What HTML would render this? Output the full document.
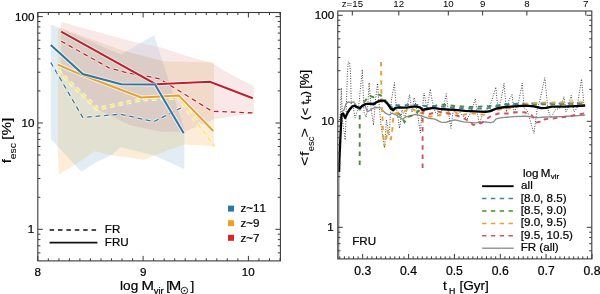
<!DOCTYPE html><html><head><meta charset="utf-8"><style>html,body{margin:0;padding:0;background:#fff;width:600px;height:294px;overflow:hidden}svg{display:block;will-change:transform}text{font-family:"Liberation Sans",sans-serif;fill:#000;stroke:#000;stroke-width:0.22px;font-kerning:none}</style></head><body>
<svg width="600" height="294" viewBox="0 0 600 294">
<defs><clipPath id="cp"><polygon points="61.2,22.1 135.0,42.2 160.9,47.6 190.0,56.9 212.0,62.9 224.0,70.5 236.0,77.3 248.0,83.3 253.8,86.3 253.8,113.3 213.6,119.5 184.3,132.0 160.6,131.4 130.0,125.3 97.4,109.2 61.2,72.0"/></clipPath><clipPath id="co"><polygon points="57.8,27.0 121.0,50.0 163.5,61.3 213.9,62.6 213.9,146.2 184.3,144.5 154.4,155.5 144.2,159.8 110.4,154.9 94.5,151.2 75.8,164.3 59.0,174.5 57.8,150.0"/></clipPath></defs>
<polygon points="61.2,22.1 135.0,42.2 160.9,47.6 190.0,56.9 212.0,62.9 224.0,70.5 236.0,77.3 248.0,83.3 253.8,86.3 253.8,113.3 213.6,119.5 184.3,132.0 160.6,131.4 130.0,125.3 97.4,109.2 61.2,72.0" fill="#f9e8e8"/>
<polygon points="57.8,27.0 121.0,50.0 163.5,61.3 213.9,62.6 213.9,146.2 184.3,144.5 154.4,155.5 144.2,159.8 110.4,154.9 94.5,151.2 75.8,164.3 59.0,174.5 57.8,150.0" fill="#fcecd8"/>
<polygon points="50.8,24.5 121.2,54.4 154.0,34.9 184.3,129.0 184.3,169.1 154.4,155.5 120.4,147.0 111.9,154.7 100.0,160.6 95.5,162.4 81.4,171.7 50.8,139.0" fill="#e1ecf4"/>
<polygon points="57.8,27.0 121.0,50.0 163.5,61.3 213.9,62.6 213.9,146.2 184.3,144.5 154.4,155.5 144.2,159.8 110.4,154.9 94.5,151.2 75.8,164.3 59.0,174.5 57.8,150.0" fill="#f2dacb" clip-path="url(#cp)"/>
<polygon points="50.8,24.5 121.2,54.4 154.0,34.9 184.3,129.0 184.3,169.1 154.4,155.5 120.4,147.0 111.9,154.7 100.0,160.6 95.5,162.4 81.4,171.7 50.8,139.0" fill="#e4dde4" clip-path="url(#cp)"/>
<polygon points="50.8,24.5 121.2,54.4 154.0,34.9 184.3,129.0 184.3,169.1 154.4,155.5 120.4,147.0 111.9,154.7 100.0,160.6 95.5,162.4 81.4,171.7 50.8,139.0" fill="#e2e0d0" clip-path="url(#co)"/>
<g clip-path="url(#co)"><polygon points="50.8,24.5 121.2,54.4 154.0,34.9 184.3,129.0 184.3,169.1 154.4,155.5 120.4,147.0 111.9,154.7 100.0,160.6 95.5,162.4 81.4,171.7 50.8,139.0" fill="#dbcdc6" clip-path="url(#cp)"/></g>
<polyline points="50.8,62.5 82.8,117.5 120.3,114.2 153.7,121.7 180.8,108.0" fill="none" stroke="#fff" stroke-opacity="0.75" stroke-width="3.1" stroke-dasharray="4.6,3.9"/>
<polyline points="50.8,62.5 82.8,117.5 120.3,114.2 153.7,121.7 180.8,108.0" fill="none" stroke="#33759c" stroke-width="1.3" stroke-dasharray="4.6,3.9"/>
<polyline points="61.2,41.2 109.0,67.8 127.3,72.9 145.7,75.9 160.0,79.0 212.0,111.2 253.7,113.0" fill="none" stroke="#fff" stroke-opacity="0.75" stroke-width="3.1" stroke-dasharray="4.6,3.9"/>
<polyline points="61.2,41.2 109.0,67.8 127.3,72.9 145.7,75.9 160.0,79.0 212.0,111.2 253.7,113.0" fill="none" stroke="#c41c2c" stroke-width="1.3" stroke-dasharray="4.6,3.9"/>
<polyline points="57.8,70.5 97.4,108.8 141.2,99.6 178.7,97.5 214.5,146.4" fill="none" stroke="#fff" stroke-opacity="0.75" stroke-width="4.0" stroke-dasharray="4.6,3.9"/>
<polyline points="57.8,70.5 97.4,108.8 141.2,99.6 178.7,97.5 214.5,146.4" fill="none" stroke="#f6ec70" stroke-width="2.2" stroke-dasharray="4.6,3.9"/>
<polyline points="61.2,31.7 155.8,84.2 209.9,81.7 252.8,98.3" fill="none" stroke="#fff" stroke-opacity="0.75" stroke-width="3.8"/>
<polyline points="61.2,31.7 155.8,84.2 209.9,81.7 252.8,98.3" fill="none" stroke="#c41c2c" stroke-width="2.0"/>
<polyline points="57.8,64.6 82.8,75.3 141.2,97.5 178.7,95.4 213.3,131.0" fill="none" stroke="#fff" stroke-opacity="0.75" stroke-width="3.8"/>
<polyline points="57.8,64.6 82.8,75.3 141.2,97.5 178.7,95.4 213.3,131.0" fill="none" stroke="#e6a030" stroke-width="2.0"/>
<polyline points="50.8,45.0 82.8,74.0 121.2,84.3 155.0,84.6 183.7,133.3" fill="none" stroke="#fff" stroke-opacity="0.75" stroke-width="3.8"/>
<polyline points="50.8,45.0 82.8,74.0 121.2,84.3 155.0,84.6 183.7,133.3" fill="none" stroke="#33759c" stroke-width="2.0"/>
<defs><clipPath id="rc"><rect x="338.3" y="11.5" width="253" height="247"/></clipPath></defs>
<g clip-path="url(#rc)">
<polyline points="339.5,120.0 340.5,112.0 341.3,87.9 342.3,118.0 343.5,128.0 345.2,140.0 346.3,110.0 347.3,75.0 348.3,62.0 349.6,62.0 350.6,75.0 351.4,110.0 353.0,105.0 355.0,118.0 357.0,112.0 358.5,108.0 362.3,69.5 364.0,112.0 366.0,117.0 367.5,110.0 369.1,82.6 371.0,108.0 373.5,125.0 375.5,100.0 377.6,83.3 379.0,103.0 381.0,125.0 384.5,148.0 386.5,120.0 389.0,135.0 391.5,100.0 394.4,82.6 396.0,105.0 399.6,128.3 402.0,110.0 405.0,118.0 409.5,94.5 412.0,112.0 414.1,97.6 417.0,110.0 420.3,132.9 422.0,112.0 424.1,93.0 427.0,110.0 430.2,89.1 432.0,100.0 435.0,112.0 440.0,115.0 444.0,105.0 446.3,93.7 448.0,110.0 450.9,128.3 453.0,112.0 458.0,110.0 462.0,115.0 467.2,118.9 471.0,112.0 475.4,98.5 477.0,112.0 479.5,124.0 483.0,112.0 489.0,108.0 492.0,100.0 495.8,87.2 498.0,110.0 501.0,100.0 504.0,83.2 506.5,112.0 509.0,100.0 512.0,94.4 514.0,112.0 518.0,105.0 522.3,83.2 524.0,108.0 527.0,110.0 530.0,120.0 534.0,133.4 537.0,110.0 540.0,100.0 544.8,77.7 548.0,110.0 551.0,118.0 555.0,110.0 560.0,108.0 563.9,96.7 566.0,112.0 568.0,108.0 571.2,95.3 574.0,112.0 577.0,108.0 581.5,79.0 584.0,105.0" fill="none" stroke="#222" stroke-width="0.9" stroke-dasharray="0.9,1.6"/>
<polyline points="340.5,112.0 343.9,110.3 346.2,103.4 348.5,101.9 350.8,102.7 353.8,101.9 356.9,106.5 359.2,109.5 361.5,107.2 364.6,105.0 367.6,111.8 370.0,110.2 373.6,107.9 377.1,107.3 380.7,107.9 383.1,110.8 385.5,113.2 389.0,115.0 392.0,113.2 396.2,115.0 399.8,117.4 402.7,119.2 405.7,116.8 410.5,116.2 415.2,114.4 419.5,115.3 424.1,116.8 428.7,118.4 434.8,119.1 440.9,122.1 445.5,122.3 450.1,121.0 455.0,119.8 463.2,121.8 475.4,122.8 485.6,121.9 490.0,122.7 493.6,121.8 496.0,118.8 501.9,117.6 513.8,116.7 525.7,116.2 531.7,117.0 537.6,117.6 545.0,117.0 551.9,116.8 563.8,116.5 585.2,115.2" fill="none" stroke="#8a8a8a" stroke-width="1.3" stroke-linejoin="round"/>
<polyline points="359.7,165.0 359.7,110.0 362.0,105.0 365.0,101.0 368.4,96.3 370.0,96.0 373.6,97.1 377.1,94.2 380.7,95.4 385.0,100.0 389.6,104.9 395.0,110.8 401.0,115.6 404.5,122.1 408.1,116.8 411.7,115.6 416.4,112.6 420.0,110.0 430.0,108.0 439.4,104.4 447.8,105.2 455.0,106.0 470.0,107.0 490.0,106.0 510.0,104.5 537.6,104.5 560.0,104.0 585.0,103.5" fill="none" stroke="#4a8c32" stroke-width="1.9" stroke-dasharray="4.5,4.6"/>
<polyline points="343.0,113.4 345.2,117.0 347.7,112.6 350.0,108.8 354.6,105.7 360.0,107.5 365.3,104.2 372.0,103.7 380.7,100.7 386.0,102.5 391.0,106.0 393.8,104.9 401.0,105.5 409.3,104.9 417.6,104.9 425.0,106.0 435.0,106.2 447.0,107.0 455.0,108.0 470.0,108.5 485.0,108.5 492.4,107.7 497.1,106.0 505.5,104.3 513.8,103.9 530.0,103.5 560.0,103.5 585.0,103.2" fill="none" stroke="#3a82b4" stroke-width="1.9" stroke-dasharray="4.5,4.6"/>
<polyline points="381.0,62.0 381.5,100.0 382.5,117.0 383.0,134.0 384.5,146.0 386.0,140.0 387.5,130.0 389.0,138.0 391.0,139.0 392.5,128.0 393.3,118.0 395.0,113.6 397.5,112.8 404.5,111.4 410.5,107.9 418.0,112.2 424.0,114.0 430.2,116.8 439.4,115.3 446.0,113.0 455.0,112.0 461.0,115.8 470.0,113.0 483.6,114.8 490.0,111.0 496.0,109.9 504.3,108.7 513.8,108.1 522.0,104.5 530.5,103.6 538.8,102.7 560.0,102.5 585.0,102.3" fill="none" stroke="#e9a030" stroke-width="1.9" stroke-dasharray="4.5,4.6"/>
<polyline points="422.6,168.0 422.6,111.0 425.0,112.0 430.0,114.0 437.9,111.5 445.0,113.0 455.0,115.0 461.0,117.0 467.0,120.0 473.4,125.0 481.5,123.0 489.7,116.8 498.3,113.5 507.9,113.5 516.2,112.3 524.5,112.3 531.7,115.2 532.9,117.0 536.4,122.4 540.0,121.8 542.4,122.1 544.8,119.2 551.9,118.6 561.4,117.4 569.8,116.2 578.1,114.4 584.5,113.5" fill="none" stroke="#cc5560" stroke-width="1.9" stroke-dasharray="4.5,4.6"/>
<polyline points="339.1,172.0 339.4,160.0 340.3,140.0 341.5,114.5 343.1,113.4 345.2,118.0 347.7,112.6 350.0,108.8 352.3,106.5 354.6,105.7 356.9,107.2 360.0,108.0 362.3,105.7 365.3,104.2 370.0,103.7 373.6,104.3 377.1,101.9 380.7,100.7 384.3,100.7 387.9,104.3 390.8,108.5 393.2,110.2 395.6,107.9 398.6,107.3 403.3,107.6 408.1,107.3 412.9,106.7 416.4,106.7 420.0,107.3 422.6,109.8 427.1,109.0 433.3,107.8 439.4,108.8 447.0,109.5 455.0,109.9 465.2,110.9 475.4,111.3 485.6,111.8 490.0,111.1 496.0,108.7 501.9,107.5 513.8,106.3 525.7,105.7 534.0,106.3 541.2,108.1 546.0,107.9 551.9,106.7 563.8,106.7 575.7,106.1 585.2,105.5" fill="none" stroke="#000" stroke-width="2.3" stroke-linejoin="round"/>
<line x1="338.9" y1="171" x2="338.7" y2="259" stroke="#555" stroke-width="1"/>
</g>
<rect x="37.8" y="12.5" width="242.6" height="248.4" fill="none" stroke="#3a3a3a" stroke-width="1.1"/>
<rect x="337.8" y="11.0" width="254.0" height="247.9" fill="none" stroke="#3a3a3a" stroke-width="1.1"/>
<path d="M37.8 260.9v-5.0M37.8 12.5v5.0M48.3 260.9v-2.6M48.3 12.5v2.6M58.9 260.9v-2.6M58.9 12.5v2.6M69.4 260.9v-2.6M69.4 12.5v2.6M79.9 260.9v-2.6M79.9 12.5v2.6M90.4 260.9v-2.6M90.4 12.5v2.6M101.0 260.9v-2.6M101.0 12.5v2.6M111.5 260.9v-2.6M111.5 12.5v2.6M122.0 260.9v-2.6M122.0 12.5v2.6M132.6 260.9v-2.6M132.6 12.5v2.6M143.1 260.9v-5.0M143.1 12.5v5.0M153.6 260.9v-2.6M153.6 12.5v2.6M164.2 260.9v-2.6M164.2 12.5v2.6M174.7 260.9v-2.6M174.7 12.5v2.6M185.2 260.9v-2.6M185.2 12.5v2.6M195.8 260.9v-2.6M195.8 12.5v2.6M206.3 260.9v-2.6M206.3 12.5v2.6M216.8 260.9v-2.6M216.8 12.5v2.6M227.3 260.9v-2.6M227.3 12.5v2.6M237.9 260.9v-2.6M237.9 12.5v2.6M248.4 260.9v-5.0M248.4 12.5v5.0M258.9 260.9v-2.6M258.9 12.5v2.6M269.5 260.9v-2.6M269.5 12.5v2.6M280.0 260.9v-2.6M280.0 12.5v2.6M37.8 252.9h2.6M280.4 252.9h-2.6M37.8 245.8h2.6M280.4 245.8h-2.6M37.8 239.6h2.6M280.4 239.6h-2.6M37.8 234.2h2.6M280.4 234.2h-2.6M37.8 229.3h5.0M280.4 229.3h-5.0M37.8 197.3h2.6M280.4 197.3h-2.6M37.8 178.6h2.6M280.4 178.6h-2.6M37.8 165.3h2.6M280.4 165.3h-2.6M37.8 155.0h2.6M280.4 155.0h-2.6M37.8 146.5h2.6M280.4 146.5h-2.6M37.8 139.4h2.6M280.4 139.4h-2.6M37.8 133.3h2.6M280.4 133.3h-2.6M37.8 127.8h2.6M280.4 127.8h-2.6M37.8 123.0h5.0M280.4 123.0h-5.0M37.8 90.9h2.6M280.4 90.9h-2.6M37.8 72.2h2.6M280.4 72.2h-2.6M37.8 58.9h2.6M280.4 58.9h-2.6M37.8 48.6h2.6M280.4 48.6h-2.6M37.8 40.2h2.6M280.4 40.2h-2.6M37.8 33.1h2.6M280.4 33.1h-2.6M37.8 26.9h2.6M280.4 26.9h-2.6M37.8 21.5h2.6M280.4 21.5h-2.6M37.8 16.6h5.0M280.4 16.6h-5.0M339.8 258.9v-2.6M344.4 258.9v-2.6M348.9 258.9v-2.6M353.5 258.9v-2.6M358.1 258.9v-2.6M362.7 258.9v-5.0M367.3 258.9v-2.6M371.9 258.9v-2.6M376.5 258.9v-2.6M381.0 258.9v-2.6M385.6 258.9v-2.6M390.2 258.9v-2.6M394.8 258.9v-2.6M399.4 258.9v-2.6M404.0 258.9v-2.6M408.6 258.9v-5.0M413.1 258.9v-2.6M417.7 258.9v-2.6M422.3 258.9v-2.6M426.9 258.9v-2.6M431.5 258.9v-2.6M436.1 258.9v-2.6M440.7 258.9v-2.6M445.2 258.9v-2.6M449.8 258.9v-2.6M454.4 258.9v-5.0M459.0 258.9v-2.6M463.6 258.9v-2.6M468.2 258.9v-2.6M472.8 258.9v-2.6M477.4 258.9v-2.6M481.9 258.9v-2.6M486.5 258.9v-2.6M491.1 258.9v-2.6M495.7 258.9v-2.6M500.3 258.9v-5.0M504.9 258.9v-2.6M509.5 258.9v-2.6M514.0 258.9v-2.6M518.6 258.9v-2.6M523.2 258.9v-2.6M527.8 258.9v-2.6M532.4 258.9v-2.6M537.0 258.9v-2.6M541.6 258.9v-2.6M546.1 258.9v-5.0M550.7 258.9v-2.6M555.3 258.9v-2.6M559.9 258.9v-2.6M564.5 258.9v-2.6M569.1 258.9v-2.6M573.7 258.9v-2.6M578.2 258.9v-2.6M582.8 258.9v-2.6M587.4 258.9v-2.6M592.0 258.9v-5.0M352.3 11.0v4.5M398.8 11.0v4.5M448.3 11.0v4.5M482.6 11.0v4.5M526.9 11.0v4.5M585.8 11.0v4.5M337.8 250.8h2.6M591.8 250.8h-2.6M337.8 243.7h2.6M591.8 243.7h-2.6M337.8 237.6h2.6M591.8 237.6h-2.6M337.8 232.2h2.6M591.8 232.2h-2.6M337.8 227.3h5.0M591.8 227.3h-5.0M337.8 195.4h2.6M591.8 195.4h-2.6M337.8 176.7h2.6M591.8 176.7h-2.6M337.8 163.5h2.6M591.8 163.5h-2.6M337.8 153.2h2.6M591.8 153.2h-2.6M337.8 144.8h2.6M591.8 144.8h-2.6M337.8 137.7h2.6M591.8 137.7h-2.6M337.8 131.6h2.6M591.8 131.6h-2.6M337.8 126.2h2.6M591.8 126.2h-2.6M337.8 121.3h5.0M591.8 121.3h-5.0M337.8 89.4h2.6M591.8 89.4h-2.6M337.8 70.7h2.6M591.8 70.7h-2.6M337.8 57.5h2.6M591.8 57.5h-2.6M337.8 47.2h2.6M591.8 47.2h-2.6M337.8 38.8h2.6M591.8 38.8h-2.6M337.8 31.7h2.6M591.8 31.7h-2.6M337.8 25.6h2.6M591.8 25.6h-2.6M337.8 20.2h2.6M591.8 20.2h-2.6M337.8 15.3h5.0M591.8 15.3h-5.0" stroke="#3a3a3a" stroke-width="1" fill="none"/>
<text x="15.10" y="21.00" font-size="11.6">100</text>
<text x="21.55" y="126.90" font-size="11.6">10</text>
<text x="27.82" y="233.20" font-size="11.6">1</text>
<text x="34.57" y="275.50" font-size="11.6">8</text>
<text x="139.88" y="275.50" font-size="11.6">9</text>
<text x="241.73" y="275.50" font-size="11.6">10</text>
<text x="120.08" y="290.20" font-size="13.6">log</text>
<text transform="translate(141.57,290.20) scale(1.100,1)" font-size="13.6">M</text>
<text x="153.72" y="293.50" font-size="9.5">vir</text>
<text x="166.33" y="290.20" font-size="13.6">[</text>
<text transform="translate(168.67,290.20) scale(1.100,1)" font-size="13.6">M</text>
<text x="190.39" y="290.20" font-size="13.6">]</text>
<circle cx="184.4" cy="290.6" r="3.3" fill="none" stroke="#111" stroke-width="0.9"/><circle cx="184.4" cy="290.6" r="0.9" fill="#111"/>
<text transform="translate(10.90,163.23) rotate(-90) scale(1.150,1)" font-size="13.2" style="stroke-width:0.1px">f</text>
<text transform="translate(15.60,159.16) rotate(-90) scale(1.180,1)" font-size="8.8" style="stroke-width:0.05px">esc</text>
<text transform="translate(10.90,139.67) rotate(-90) scale(1.150,1)" font-size="13.2" style="stroke-width:0.1px">[%]</text>
<rect x="228" y="205.6" width="6" height="6" fill="#2f77a3"/>
<rect x="228" y="220.2" width="6" height="6" fill="#eda124"/>
<rect x="228" y="234.8" width="6" height="6" fill="#e0202a"/>
<text x="240.43" y="212.00" font-size="11.6">z~11</text>
<text x="240.43" y="227.00" font-size="11.6">z~9</text>
<text x="240.43" y="241.80" font-size="11.6">z~7</text>
<line x1="49.6" y1="230" x2="96.2" y2="230" stroke="#111" stroke-width="1.6" stroke-dasharray="4.5,3.9"/>
<line x1="49.6" y1="242.6" x2="97.4" y2="242.6" stroke="#111" stroke-width="1.7"/>
<text x="104.85" y="233.00" font-size="11.6">FR</text>
<text x="104.85" y="245.80" font-size="11.6">FRU</text>
<text x="314.80" y="19.40" font-size="11.6">100</text>
<text x="321.25" y="125.40" font-size="11.6">10</text>
<text x="327.32" y="231.40" font-size="11.6">1</text>
<text x="354.25" y="274.90" font-size="12.2">0.3</text>
<text x="400.02" y="274.90" font-size="12.2">0.4</text>
<text x="445.96" y="274.90" font-size="12.2">0.5</text>
<text x="491.83" y="274.90" font-size="12.2">0.6</text>
<text x="537.73" y="274.90" font-size="12.2">0.7</text>
<text x="583.55" y="274.90" font-size="12.2">0.8</text>
<text x="341.76" y="7.30" font-size="9.7" style="stroke-width:0">z=15</text>
<text x="393.28" y="7.30" font-size="9.7" style="stroke-width:0">12</text>
<text x="442.93" y="7.30" font-size="9.7" style="stroke-width:0">10</text>
<text x="479.91" y="7.30" font-size="9.7" style="stroke-width:0">9</text>
<text x="524.20" y="7.30" font-size="9.7" style="stroke-width:0">8</text>
<text x="583.10" y="7.30" font-size="9.7" style="stroke-width:0">7</text>
<text x="442.89" y="290.00" font-size="13.6">t</text>
<text x="448.98" y="293.70" font-size="8.8">H</text>
<text x="459.43" y="290.00" font-size="13.6">[Gyr]</text>
<text transform="translate(309.00,166.00) rotate(-90) scale(1.200,1)" font-size="13.4" style="stroke-width:0.1px">&lt;</text>
<text transform="translate(309.00,155.96) rotate(-90) scale(1.200,1)" font-size="13.4" style="stroke-width:0.1px">f</text>
<text transform="translate(313.80,151.23) rotate(-90) scale(1.050,1)" font-size="9.0" style="stroke-width:0.05px">esc</text>
<text transform="translate(309.00,137.45) rotate(-90) scale(1.200,1)" font-size="13.4" style="stroke-width:0.1px">&gt;</text>
<text transform="translate(309.00,120.06) rotate(-90) scale(1.100,1)" font-size="11.5">(</text>
<text transform="translate(309.00,115.20) rotate(-90) scale(1.100,1)" font-size="11.5">&lt;</text>
<text transform="translate(309.00,104.61) rotate(-90) scale(1.100,1)" font-size="11.5">t</text>
<text transform="translate(311.40,101.38) rotate(-90) scale(1.100,1)" font-size="8">H</text>
<text transform="translate(309.00,95.25) rotate(-90) scale(1.100,1)" font-size="11.5">)</text>
<text transform="translate(309.00,88.84) rotate(-90) scale(1.100,1)" font-size="12">[%]</text>
<text x="352.25" y="245.10" font-size="11.6">FRU</text>
<text x="522.97" y="176.70" font-size="11.6">log</text>
<text x="540.75" y="176.70" font-size="11.6">M</text>
<text x="550.77" y="179.30" font-size="8">vir</text>
<line x1="482.1" y1="186.2" x2="513.6" y2="186.2" stroke="#000" stroke-width="1.9"/>
<text x="521.11" y="189.10" font-size="11.6">all</text>
<line x1="482.1" y1="198.6" x2="513.6" y2="198.6" stroke="#3a82b4" stroke-width="1.5" stroke-dasharray="4.4,4.4"/>
<text x="520.77" y="201.50" font-size="11.6">[8.0, 8.5)</text>
<line x1="482.1" y1="211.0" x2="513.6" y2="211.0" stroke="#4a8c32" stroke-width="1.5" stroke-dasharray="4.4,4.4"/>
<text x="520.77" y="213.90" font-size="11.6">[8.5, 9.0)</text>
<line x1="482.1" y1="223.4" x2="513.6" y2="223.4" stroke="#e9a030" stroke-width="1.5" stroke-dasharray="4.4,4.4"/>
<text x="520.77" y="226.30" font-size="11.6">[9.0, 9.5)</text>
<line x1="482.1" y1="235.8" x2="513.6" y2="235.8" stroke="#cc5560" stroke-width="1.5" stroke-dasharray="4.4,4.4"/>
<text x="520.77" y="238.70" font-size="11.6">[9.5, 10.5)</text>
<line x1="482.1" y1="248.2" x2="513.6" y2="248.2" stroke="#888" stroke-width="1.3"/>
<text x="520.65" y="251.10" font-size="11.6">FR (all)</text>
</svg></body></html>
